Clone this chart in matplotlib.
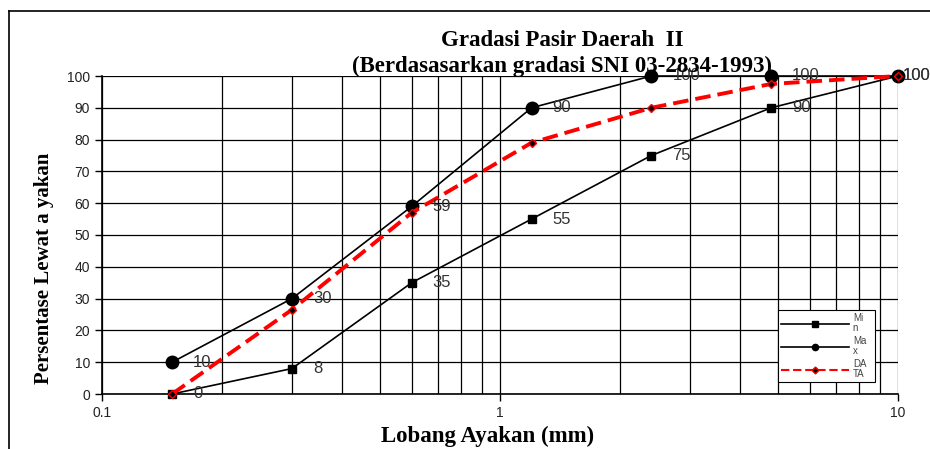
import matplotlib
matplotlib.use("Agg")
import matplotlib.pyplot as plt
from matplotlib.lines import Line2D
from matplotlib.ticker import FixedLocator, NullFormatter

sieve = [0.15, 0.3, 0.6, 1.2, 2.4, 4.8, 10]
min_vals = [0, 8, 35, 55, 75, 90, 100]
max_vals = [10, 30, 59, 90, 100, 100, 100]
data_vals = [0, 26.5, 57, 79, 90, 97.5, 100]
min_labels = ["0", "8", "35", "55", "75", "90", "100"]
max_labels = ["10", "30", "59", "90", "100", "100", "100"]

W, H = 930, 449
fig = plt.figure(figsize=(W/100, H/100), dpi=100)
ax = fig.add_axes([102/W, (H-394)/H, (898-102)/W, (394-76)/H])

serif = ["Liberation Serif", "DejaVu Serif"]
sans = ["Liberation Sans", "DejaVu Sans"]

ax.set_xscale("log")
ax.set_xlim(0.1, 10)
ax.set_ylim(0, 100)
ax.set_yticks(range(0, 101, 10))
ax.xaxis.set_major_locator(FixedLocator([0.1, 1, 10]))
ax.set_xticklabels(["0.1", "1", "10"])
minor = [k*10**e for e in (-1, 0) for k in range(2, 10)]
ax.xaxis.set_minor_locator(FixedLocator(minor))
ax.xaxis.set_minor_formatter(NullFormatter())
ax.grid(True, which="both", axis="x", color="black", lw=0.9)
ax.grid(True, which="major", axis="y", color="black", lw=0.9)
ax.set_axisbelow(True)
for s in ("top", "right"):
    ax.spines[s].set_visible(False)
for s in ("left", "bottom"):
    ax.spines[s].set_linewidth(1.2)
ax.tick_params(axis="both", which="major", direction="out", length=5, width=1, labelsize=10)
ax.tick_params(axis="x", which="minor", length=0)
for lab in ax.get_xticklabels() + ax.get_yticklabels():
    lab.set_fontfamily(sans)
    lab.set_color("#222222")

ax.plot(sieve, min_vals, color="black", lw=1.2, marker="s", ms=6, label="Mi\nn", clip_on=False, zorder=3)
ax.plot(sieve, max_vals, color="black", lw=1.2, marker="o", ms=9, label="Ma\nx", clip_on=False, zorder=3)
ax.plot(sieve, data_vals, color="#ff0000", lw=2.8, ls=(0, (4, 1.8)), marker="D", ms=4.5,
        mfc="black", mec="#ff0000", mew=1, label="DA\nTA", clip_on=False, zorder=4)

n = len(sieve)
for vals, labels in ((max_vals, max_labels), (min_vals, min_labels)):
    for i, (x, y, t) in enumerate(zip(sieve, vals, labels)):
        dx = 5 if i == n - 1 else 21
        ax.annotate(t, (x, y), xytext=(dx, 0), textcoords="offset pixels",
                    va="center", ha="left", fontsize=12, family=sans, color="#333333", zorder=5,
                    annotation_clip=False)

leg = ax.legend(loc="lower left", bbox_to_anchor=((778-102)/(898-102), (394-382)/(394-76),
                (875-778)/(898-102), (382-312)/(394-76)), mode="expand",
                prop={"family": sans, "size": 7}, frameon=True, fancybox=False,
                framealpha=1, edgecolor="black", borderpad=0.3, labelspacing=0.3,
                handlelength=7.0, handletextpad=0.4, borderaxespad=0)
leg.get_frame().set_linewidth(0.8)
for t in leg.get_texts():
    t.set_color("#444444")
    t.set_linespacing(1.0)
for h, ms in zip(leg.legend_handles, (4.5, 4.5, 3.5)):
    h.set_markersize(ms)
leg.legend_handles[2].set_linewidth(1.5)

ax.set_xlabel("Lobang Ayakan (mm)", family=serif, fontweight="bold", fontsize=16.5)
ax.xaxis.set_label_coords((488-102)/(898-102), -(436-394)/(394-76))
ax.xaxis.label.set_va("center")
ax.set_ylabel("Persentase Lewat a yakan", family=serif, fontweight="bold", fontsize=15)
ax.yaxis.set_label_coords(-(102-44)/(898-102), (394-268)/(394-76))
ax.yaxis.label.set_va("center")

fig.text(562/W, 1-40/H, "Gradasi Pasir Daerah  II", family=serif, fontweight="bold",
         fontsize=16.5, ha="center", va="center")
fig.text(562/W, 1-66/H, "(Berdasasarkan gradasi SNI 03-2834-1993)", family=serif, fontweight="bold",
         fontsize=16.5, ha="center", va="center", zorder=1)

fig.add_artist(Line2D([9/W, 9/W], [0, 1-11/H], color="black", lw=1.2, transform=fig.transFigure))
fig.add_artist(Line2D([9/W, 1], [1-11/H, 1-11/H], color="black", lw=1.2, transform=fig.transFigure))

fig.savefig("out.png", dpi=100)
